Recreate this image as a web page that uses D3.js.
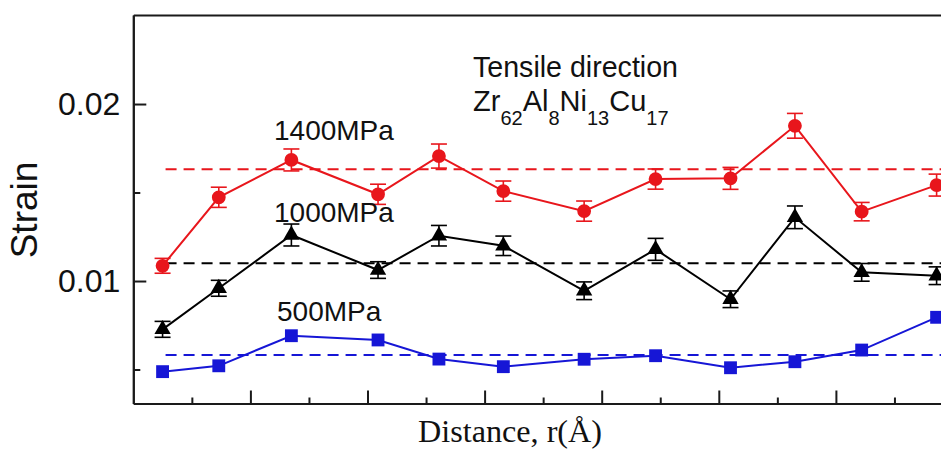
<!DOCTYPE html>
<html>
<head>
<meta charset="utf-8">
<script src="https://cdn.jsdelivr.net/npm/d3@7"></script>
<style>
  body { margin: 0; background: #fff; }
  text { font-family: "Liberation Sans", Arial, sans-serif; fill: #111; }
</style>
</head>
<body>
<svg id="chart" width="941" height="450"></svg>
<script>
// Radial distance positions of the sampled shells (axis units)
const distance = [0.25, 0.73, 1.35, 2.09, 2.61, 3.16, 3.85, 4.46, 5.10, 5.65, 6.22, 6.86];

// Local strain under each applied stress, with error half-widths
const strain1400 = [0.01086, 0.01473, 0.01684, 0.01490, 0.01706, 0.01508, 0.01395, 0.01576, 0.01580, 0.01877, 0.01392, 0.01542];
const err1400    = [0.00042, 0.00057, 0.00062, 0.00057, 0.00068, 0.00057, 0.00057, 0.00057, 0.00062, 0.00070, 0.00052, 0.00062];
const strain1000 = [0.00727, 0.00959, 0.01260, 0.01062, 0.01256, 0.01199, 0.00945, 0.01179, 0.00897, 0.01360, 0.01049, 0.01030];
const err1000    = [0.00045, 0.00045, 0.00062, 0.00047, 0.00058, 0.00055, 0.00050, 0.00062, 0.00047, 0.00064, 0.00050, 0.00050];
const strain500  = [0.00488, 0.00521, 0.00691, 0.00667, 0.00559, 0.00516, 0.00558, 0.00578, 0.00510, 0.00544, 0.00610, 0.00795];

// Average strain for each stress level (dashed reference lines)
const meanStrain = [0.01631, 0.01100, 0.00582];
const stressLabels = ["1400MPa", "1000MPa", "500MPa"];
const seriesColors = ["#e8161c", "#000000", "#1616d6"];

// Axis ticks
const yMajorTicks = [0.01, 0.02];
const yMinorTicks = [0.005, 0.015];
const xMajorTicks = [1, 2, 3, 4, 5, 6];
const xMinorTicks = [0.5, 1.5, 2.5, 3.5, 4.5, 5.5, 6.5];

const xTitle = "Distance, r(Å)";
const yTitle = "Strain";
const noteLine1 = "Tensile direction";
const alloyParts = [["Zr", "62"], ["Al", "8"], ["Ni", "13"], ["Cu", "17"]];

const svg = d3.select("#chart");
const W = 941, H = 450;
svg.append("rect").attr("width", W).attr("height", H).attr("fill", "#fff");

const plotLeft = 133.3, plotTop = 15, plotBottom = 403.5;
const x = d3.scaleLinear().domain([0, 7]).range([plotLeft, plotLeft + 7 * 117.1]);
const y = d3.scaleLinear().domain([0.00308, 0.02503]).range([plotBottom, plotTop]);

const axisColor = "#1a1a1a";
function styleAxis(g) {
  g.selectAll("path.domain").attr("stroke", axisColor).attr("stroke-width", 2);
  g.selectAll(".tick line").attr("stroke", axisColor).attr("stroke-width", 2);
  g.selectAll(".tick text").attr("font-size", 32).attr("fill", "#111")
    .attr("font-family", "'Liberation Sans', Arial, sans-serif");
}

// Left axis: labelled major ticks and short minor ticks, pointing inward
svg.append("g").attr("transform", `translate(${plotLeft},0)`)
  .call(d3.axisLeft(y).tickValues(yMinorTicks).tickSize(-7).tickSizeOuter(0).tickFormat(""))
  .call(styleAxis);
svg.append("g").attr("transform", `translate(${plotLeft},0)`)
  .call(d3.axisLeft(y).tickValues(yMajorTicks).tickSize(-13).tickSizeOuter(0)
    .tickPadding(13).tickFormat(d3.format(".2f")))
  .call(styleAxis);

// Bottom axis without labels
svg.append("g").attr("transform", `translate(0,${plotBottom})`)
  .call(d3.axisBottom(x).tickValues(xMinorTicks).tickSize(-6).tickSizeOuter(0).tickFormat(""))
  .call(styleAxis);
svg.append("g").attr("transform", `translate(0,${plotBottom})`)
  .call(d3.axisBottom(x).tickValues(xMajorTicks).tickSize(-13).tickSizeOuter(0).tickFormat(""))
  .call(styleAxis);

// Top frame line
svg.append("g").attr("transform", `translate(0,${plotTop})`)
  .call(d3.axisTop(x).tickValues([]).tickSizeOuter(0))
  .call(styleAxis);

// Axis titles
svg.append("text")
  .attr("transform", `translate(37,210) rotate(-90)`)
  .attr("text-anchor", "middle")
  .attr("font-size", 37)
  .text(yTitle);

svg.append("text")
  .attr("x", 510).attr("y", 442)
  .attr("text-anchor", "middle")
  .attr("font-size", 31)
  .attr("textLength", 184).attr("lengthAdjust", "spacingAndGlyphs")
  .style("font-family", "'Liberation Serif', 'DejaVu Serif', serif")
  .text(xTitle);

// Note with alloy composition
svg.append("text")
  .attr("x", 473).attr("y", 76.5)
  .attr("font-size", 30)
  .attr("textLength", 205).attr("lengthAdjust", "spacingAndGlyphs")
  .text(noteLine1);

const alloy = svg.append("text").attr("x", 473).attr("y", 111).attr("font-size", 29);
alloyParts.forEach(([el, n], i) => {
  alloy.append("tspan").attr("font-size", 29).attr("dy", i === 0 ? 0 : -14).text(el);
  alloy.append("tspan").attr("font-size", 20).attr("dy", 14).text(n);
});

// Dashed mean lines
meanStrain.forEach((m, i) => {
  svg.append("line")
    .attr("x1", x(distance[0]) + 3).attr("x2", x(7))
    .attr("y1", y(m)).attr("y2", y(m))
    .attr("stroke", seriesColors[i]).attr("stroke-width", 2)
    .attr("stroke-dasharray", "11,7");
});

const series = [
  { values: strain1400, err: err1400, color: seriesColors[0], symbol: d3.symbolCircle, size: 150 },
  { values: strain1000, err: err1000, color: seriesColors[1], symbol: d3.symbolTriangle, size: 115 },
  { values: strain500,  err: null,    color: seriesColors[2], symbol: d3.symbolSquare, size: 165 }
];

const line = d3.line().x(d => x(d[0])).y(d => y(d[1]));

series.forEach(s => {
  const pts = distance.map((d, i) => [d, s.values[i], s.err ? s.err[i] : 0]);
  const g = svg.append("g");
  g.append("path").datum(pts).attr("d", line)
    .attr("fill", "none").attr("stroke", s.color).attr("stroke-width", 2);

  if (s.err) {
    const eb = g.selectAll("g.eb").data(pts).join("g").attr("class", "eb")
      .attr("stroke", s.color).attr("stroke-width", 1.6);
    eb.append("line")
      .attr("x1", d => x(d[0])).attr("x2", d => x(d[0]))
      .attr("y1", d => y(d[1] - d[2])).attr("y2", d => y(d[1] + d[2]));
    eb.append("line")
      .attr("x1", d => x(d[0]) - 8).attr("x2", d => x(d[0]) + 8)
      .attr("y1", d => y(d[1] + d[2])).attr("y2", d => y(d[1] + d[2]));
    eb.append("line")
      .attr("x1", d => x(d[0]) - 8).attr("x2", d => x(d[0]) + 8)
      .attr("y1", d => y(d[1] - d[2])).attr("y2", d => y(d[1] - d[2]));
  }

  g.selectAll("path.mk").data(pts).join("path").attr("class", "mk")
    .attr("d", d3.symbol(s.symbol, s.size))
    .attr("transform", d => `translate(${x(d[0])},${y(d[1])})`)
    .attr("fill", s.color);
});

// Stress level labels
const labelPos = [[274, 140], [274, 222], [277, 320.5]];
stressLabels.forEach((t, i) => {
  svg.append("text").attr("x", labelPos[i][0]).attr("y", labelPos[i][1])
    .attr("font-size", 28).text(t);
});
</script>
</body>
</html>
